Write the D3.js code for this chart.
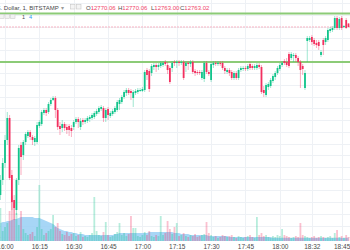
<!DOCTYPE html>
<html>
<head>
<meta charset="utf-8">
<script src="https://cdn.jsdelivr.net/npm/d3@7"></script>
<style>
  body { margin: 0; background: #fff; overflow: hidden; }
  svg { display: block; font-family: "Liberation Sans", Arial, sans-serif; }
</style>
</head>
<body>
<div id="chart"></div>
<script>
// one-minute candles, BTC/USD on Bitstamp, first bar sits two minutes before 16:00
const firstBar = -2;

const opens = [
  12427,12457,12491,12537,12581,12467,12417,12397,12457,12527,
  12507,12533,12545,12553,12543,12533,12533,12565,12569,12591,
  12597,12593,12609,12617,12621,12597,12565,12561,12569,12563,
  12565,12561,12563,12573,12579,12563,12577,12573,12575,12579,
  12581,12583,12589,12593,12599,12601,12581,12599,12585,12589,
  12593,12597,12609,12613,12623,12631,12637,12635,12621,12631,
  12633,12635,12635,12637,12677,12675,12671,12683,12687,12683,
  12685,12687,12693,12687,12681,12681,12693,12691,12693,12691,
  12693,12685,12691,12689,12693,12675,12673,12673,12661,12659,
  12691,12673,12657,12687,12691,12689,12691,12691,12681,12673,
  12677,12673,12661,12671,12661,12677,12679,12681,12679,12689,
  12685,12681,12681,12687,12683,12637,12627,12643,12645,12655,
  12663,12671,12679,12687,12695,12693,12709,12701,12705,12707,
  12701,12693,12685,12641,12735,12737,12743,12737,12731,12733,
  12707,12737,12733,12737,12755,12757,12761,12781,12761,12781,
  12763,12777,12770.06
];
const highs = [
  12467,12501,12547,12593,12587,12477,12427,12461,12527,12533,
  12537,12553,12557,12557,12547,12545,12573,12577,12597,12601,
  12601,12613,12621,12625,12625,12601,12573,12577,12573,12569,
  12569,12567,12577,12583,12583,12581,12581,12581,12585,12587,
  12591,12595,12599,12605,12607,12605,12601,12603,12595,12599,
  12605,12617,12621,12627,12637,12641,12641,12639,12637,12639,
  12641,12641,12643,12677,12681,12679,12689,12691,12691,12691,
  12695,12695,12697,12693,12685,12695,12697,12697,12697,12697,
  12697,12695,12695,12697,12697,12679,12677,12677,12677,12695,
  12695,12677,12693,12695,12695,12695,12695,12695,12685,12681,
  12681,12677,12675,12675,12681,12685,12685,12685,12689,12693,
  12689,12689,12691,12691,12687,12645,12651,12653,12661,12669,
  12675,12685,12691,12695,12699,12701,12713,12713,12711,12711,
  12705,12697,12689,12677,12745,12745,12747,12741,12737,12737,
  12717,12741,12745,12761,12763,12765,12785,12785,12783,12785,
  12767,12781,12770.06
];
const lows = [
  12417,12447,12481,12527,12457,12397,12377,12387,12447,12467,
  12497,12527,12541,12537,12527,12525,12529,12561,12565,12587,
  12585,12589,12605,12615,12581,12557,12547,12553,12555,12549,
  12545,12543,12557,12569,12561,12557,12567,12569,12571,12573,
  12577,12579,12585,12589,12595,12573,12573,12577,12581,12585,
  12589,12593,12597,12609,12619,12625,12627,12617,12603,12627,
  12629,12633,12633,12633,12657,12633,12665,12677,12673,12677,
  12681,12683,12685,12669,12649,12673,12685,12681,12685,12687,
  12657,12673,12677,12683,12669,12665,12667,12667,12657,12653,
  12669,12665,12653,12681,12685,12685,12685,12677,12669,12669,
  12665,12657,12657,12657,12657,12673,12675,12675,12675,12677,
  12677,12677,12677,12679,12629,12623,12623,12637,12641,12651,
  12657,12667,12675,12683,12687,12683,12681,12697,12693,12693,
  12685,12641,12667,12637,12693,12733,12727,12725,12721,12717,
  12703,12707,12727,12733,12751,12753,12757,12757,12757,12757,
  12761,12759,12763.00
];
const closes = [
  12457,12491,12537,12581,12461,12413,12401,12457,12521,12503,
  12533,12549,12553,12543,12537,12541,12567,12573,12593,12597,
  12591,12609,12617,12621,12597,12563,12559,12569,12561,12557,
  12557,12555,12573,12579,12573,12575,12573,12577,12581,12583,
  12587,12591,12595,12601,12603,12581,12597,12587,12591,12595,
  12601,12613,12617,12623,12633,12637,12631,12631,12633,12635,
  12637,12637,12639,12673,12667,12639,12685,12687,12683,12687,
  12691,12691,12689,12677,12653,12691,12691,12693,12691,12693,
  12661,12691,12689,12693,12673,12671,12671,12671,12673,12691,
  12673,12669,12689,12691,12689,12691,12689,12681,12675,12677,
  12671,12661,12671,12661,12677,12681,12681,12679,12685,12681,
  12681,12685,12687,12683,12633,12631,12647,12649,12657,12665,
  12671,12681,12687,12691,12691,12687,12685,12709,12707,12701,
  12693,12677,12679,12671,12741,12741,12733,12729,12727,12725,
  12713,12727,12741,12757,12759,12761,12781,12761,12779,12761,
  12765,12761,12763.02
];
const volumes = [
  33,10,14,18,30,45,38,28,16,30,
  12,8,6,7,9,5,14,56,12,6,
  8,10,12,26,14,18,10,7,6,9,
  5,7,8,5,6,9,4,5,4,6,
  8,44,10,6,5,9,19,6,4,5,
  7,9,18,6,8,5,7,25,13,13,
  5,4,6,9,6,10,5,4,6,5,
  25,6,8,20,12,7,14,18,5,6,
  8,5,4,6,5,7,4,5,6,7,
  19,8,6,4,5,3,4,6,5,4,
  5,6,4,3,5,4,3,4,5,6,
  4,3,24,6,8,5,6,4,3,5,
  4,6,5,12,6,5,4,3,4,5,
  4,18,6,5,4,3,4,5,3,4,
  5,4,3,4,5,3,8,11,4,5,
  3,6,4
];
const volumeMA = [
  18,19,19,20,20,21,22,22,23,24,
  24,24,24,24,24,23,23,23,22,21,
  20,19,18,17,15,13,12,11,10,10,
  9,9,8,8,7,7,7,6,6,6,
  6,6,6,6,6,6,6,6,6,6,
  7,7,8,8,8,8,8,8,8,8,
  8,8,8,8,8,9,9,9,9,9,
  9,9,9,9,9,9,8,8,8,7,
  7,7,7,6,6,6,6,6,6,6,
  6,5,5,5,5,5,5,5,5,5,
  4,4,4,4,4,4,4,4,4,4,
  4,4,4,4,4,4,4,4,4,3,
  3,3,3,3,3,3,3,3,3,3,
  3,3,3,3,3,3,3,3,3,3,
  3,3,3,3,3,3,3,3,3,3,
  3,3,3
];

// time axis: bar index of each label
const tickBars = [0, 15, 30, 45, 60, 75, 90, 105, 120, 134, 147];
const tickLabels = ["16:00", "16:15", "16:30", "16:45", "17:00", "17:15", "17:30", "17:45", "18:00", "18:32", "18:45"];

// price grid and drawn levels
const gridPrices = [12811, 12787, 12764, 12741, 12717, 12694, 12671, 12647, 12624, 12600, 12577,
  12554, 12530, 12507, 12483, 12460, 12437, 12413, 12390, 12366, 12343];
const levels = [12790, 12693];
const lastPrice = 12763.02;

const width = 350,
  height = 250,
  plotBottom = 241;

const upColor = "#12c48b",
  downColor = "#f2305f";

const candles = opens.map((o, i) => ({
  bar: firstBar + i,
  open: o,
  high: highs[i],
  low: lows[i],
  close: closes[i],
  vol: volumes[i],
  ma: volumeMA[i]
}));

const xScale = d3.scaleLinear()
  .domain([-2, 150])
  .range([0.42, 348.5]);

const yScale = d3.scaleLinear()
  .domain([12335, 12817])
  .range([plotBottom, 0]);

const vScale = d3.scaleLinear()
  .domain([0, 60])
  .range([plotBottom, plotBottom - 60]);

const svg = d3.select("#chart")
  .append("svg")
  .attr("width", width)
  .attr("height", height);

// grid
svg.append("g")
  .selectAll("line")
  .data(gridPrices)
  .join("line")
  .attr("x1", 0)
  .attr("x2", width)
  .attr("y1", d => Math.round(yScale(d)) + 0.5)
  .attr("y2", d => Math.round(yScale(d)) + 0.5)
  .attr("stroke", "#eef1f5");

svg.append("g")
  .selectAll("line")
  .data(tickBars)
  .join("line")
  .attr("x1", d => Math.round(xScale(d)) + 0.5)
  .attr("x2", d => Math.round(xScale(d)) + 0.5)
  .attr("y1", 0)
  .attr("y2", plotBottom)
  .attr("stroke", "#eef1f5");

// volume moving average area
const area = d3.area()
  .x(d => xScale(d.bar))
  .y0(plotBottom)
  .y1(d => vScale(d.ma));

svg.append("path")
  .datum(candles)
  .attr("d", area)
  .attr("fill", "#98cff4")
  .attr("fill-opacity", 0.85);

// volume bars
svg.append("g")
  .selectAll("rect")
  .data(candles)
  .join("rect")
  .attr("x", d => xScale(d.bar) - 0.9)
  .attr("width", 1.8)
  .attr("y", d => vScale(d.vol))
  .attr("height", d => plotBottom - vScale(d.vol))
  .attr("fill", d => d.close >= d.open ? upColor : downColor)
  .attr("fill-opacity", 0.3);

// levels
svg.append("g")
  .selectAll("line")
  .data(levels)
  .join("line")
  .attr("x1", 0)
  .attr("x2", width)
  .attr("y1", d => yScale(d))
  .attr("y2", d => yScale(d))
  .attr("stroke", "#8ccb77")
  .attr("stroke-width", 2);

svg.append("line")
  .attr("x1", 0)
  .attr("x2", width)
  .attr("y1", yScale(lastPrice))
  .attr("y2", yScale(lastPrice))
  .attr("stroke", "#f7b3c2")
  .attr("stroke-dasharray", "2,1");

// wicks
svg.append("g")
  .selectAll("line")
  .data(candles)
  .join("line")
  .attr("x1", d => xScale(d.bar))
  .attr("x2", d => xScale(d.bar))
  .attr("y1", d => yScale(d.high))
  .attr("y2", d => yScale(d.low))
  .attr("stroke", d => d.close >= d.open ? upColor : downColor)
  .attr("stroke-opacity", 0.4);

// bodies
svg.append("g")
  .selectAll("rect")
  .data(candles)
  .join("rect")
  .attr("x", d => xScale(d.bar) - 0.9)
  .attr("width", 1.8)
  .attr("y", d => yScale(Math.max(d.open, d.close)))
  .attr("height", d => Math.max(1, Math.abs(yScale(d.open) - yScale(d.close))))
  .attr("fill", d => d.close >= d.open ? upColor : downColor);

// time axis
const xAxis = d3.axisBottom(xScale)
  .tickValues(tickBars)
  .tickFormat((d, i) => tickLabels[i])
  .tickSize(0)
  .tickPadding(3);

svg.append("g")
  .attr("transform", `translate(0,${plotBottom})`)
  .call(xAxis)
  .call(g => g.select(".domain").remove())
  .selectAll("text")
  .style("font-family", "Liberation Sans, Arial, sans-serif")
  .style("font-size", "6.5px")
  .attr("fill", "#4a4a4a");

// legend header
const header = svg.append("g")
  .style("font-size", "6px");

header.append("text")
  .attr("x", -9.5)
  .attr("y", 9.5)
  .attr("fill", "#4a4a4a")
  .text("U.S. Dollar, 1, BITSTAMP");
header.append("text")
  .attr("x", 61)
  .attr("y", 9.5)
  .attr("fill", "#9a9a9a")
  .text("▾");

header.selectAll("rect.icon")
  .data([70, 76])
  .join("rect")
  .attr("class", "icon")
  .attr("x", d => d + 0.5)
  .attr("y", 4.5)
  .attr("width", 4.5)
  .attr("height", 4.5)
  .attr("fill", "#f4f4f4")
  .attr("stroke", "#c8c8c8")
  .attr("stroke-width", 0.6);

const ohlcKeys = ["O", "H", "L", "C"];
const ohlcValues = ["12770.06", "12770.06", "12763.00", "12763.02"];
const ohlcX = [86, 118, 151, 180];

ohlcKeys.forEach((k, i) => {
  const t = header.append("text")
    .attr("x", ohlcX[i])
    .attr("y", 9.5);
  t.append("tspan").attr("fill", "#4a4a4a").text(k);
  t.append("tspan").attr("fill", "#f0456b").text(ohlcValues[i]);
});

// second legend row (volume)
header.selectAll("rect.btn")
  .data([-1, 4.5, 10])
  .join("rect")
  .attr("class", "btn")
  .attr("x", d => d + 0.5)
  .attr("y", 14.5)
  .attr("width", 4.5)
  .attr("height", 4)
  .attr("fill", "#f2f2f2")
  .attr("stroke", "#cfcfcf")
  .attr("stroke-width", 0.6);

header.append("text")
  .attr("x", 22)
  .attr("y", 18.5)
  .style("font-size", "5.5px")
  .attr("fill", "#4a4a4a")
  .text("1");
header.append("text")
  .attr("x", 29)
  .attr("y", 18.5)
  .style("font-size", "5.5px")
  .attr("fill", "#2196f3")
  .text("4");
</script>
</body>
</html>
